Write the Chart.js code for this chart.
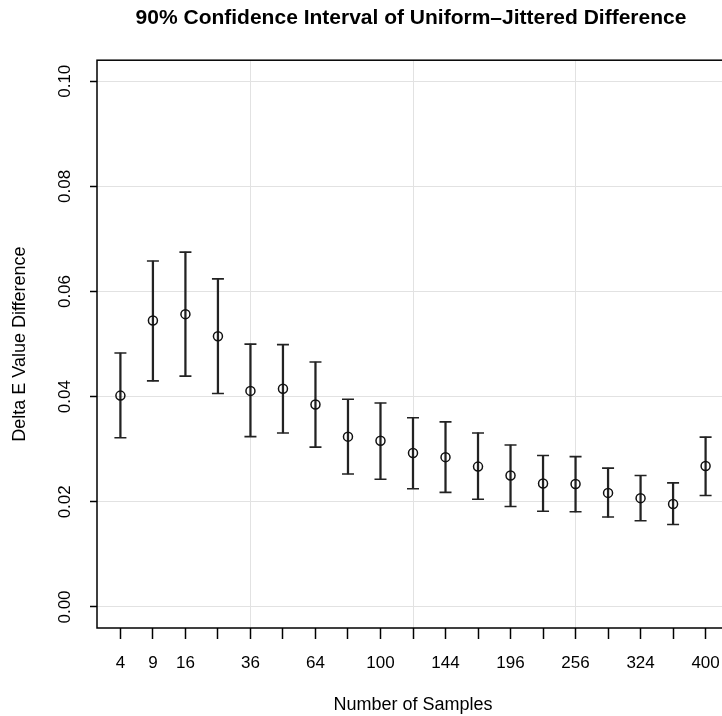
<!DOCTYPE html>
<html>
<head>
<meta charset="utf-8">
<script src="https://cdn.jsdelivr.net/npm/chart.js@4"></script>
<style>
    html, body { margin: 0; padding: 0; background: #fff; overflow: hidden; }
    #wrap { width: 822px; height: 716px; position: relative; }
</style>
</head>
<body>
<div id="wrap"><canvas id="ciChart"></canvas></div>
<script>
// ── Data ───────────────────────────────────────────────
const nSamples   = [4, 9, 16, 25, 36, 49, 64, 81, 100, 121, 144, 169, 196, 225, 256, 289, 324, 361, 400];
const meanDiff   = [0.0402, 0.0545, 0.0557, 0.0515, 0.0411, 0.0415, 0.0385, 0.0324, 0.0316, 0.0293,
                    0.0285, 0.0267, 0.0250, 0.0235, 0.0234, 0.0217, 0.0207, 0.0196, 0.0268];
const lowerCI    = [0.0322, 0.0430, 0.0439, 0.0406, 0.0324, 0.0331, 0.0304, 0.0253, 0.0243, 0.0225,
                    0.0218, 0.0205, 0.0191, 0.0182, 0.0181, 0.0171, 0.0164, 0.0157, 0.0212];
const upperCI    = [0.0483, 0.0658, 0.0675, 0.0624, 0.0500, 0.0499, 0.0466, 0.0395, 0.0388, 0.0360,
                    0.0352, 0.0331, 0.0308, 0.0288, 0.0286, 0.0264, 0.0250, 0.0236, 0.0323];
const shownXLabels = [4, 9, 16, 36, 64, 100, 144, 196, 256, 324, 400];
const yTicks       = [0, 0.02, 0.04, 0.06, 0.08, 0.10];
const xGridAt      = [5, 10, 15];

const FONT = "'Liberation Sans', Arial, sans-serif";
const INK = '#222';
const GRID = '#e2e2e2';

const pos = nSamples.map((n, i) => i + 1);

// ── Box around plot region ─────────────────────────────
const boxFrame = {
    id: 'boxFrame',
    afterDraw(chart) {
        const { ctx, chartArea: a } = chart;
        ctx.save();
        ctx.strokeStyle = '#000';
        ctx.lineWidth = 1.5;
        ctx.strokeRect(a.left, a.top, a.right - a.left, a.bottom - a.top);
        ctx.restore();
    }
};

Chart.defaults.font.family = FONT;
Chart.defaults.color = '#000';

new Chart(document.getElementById('ciChart'), {
    type: 'scatter',
    data: {
        datasets: [
            {
                label: 'mean',
                data: pos.map((x, i) => ({ x, y: meanDiff[i] })),
                pointStyle: 'circle',
                pointRadius: 4.5,
                borderWidth: 1.5,
                borderColor: '#111',
                backgroundColor: 'rgba(0,0,0,0)',
                order: 0
            },
            {
                label: 'upper',
                data: pos.map((x, i) => ({ x, y: upperCI[i] })),
                pointStyle: 'line',
                pointRadius: 6,
                borderWidth: 1.6,
                borderColor: INK,
                order: 1
            },
            {
                label: 'lower',
                data: pos.map((x, i) => ({ x, y: lowerCI[i] })),
                pointStyle: 'line',
                pointRadius: 6,
                borderWidth: 1.6,
                borderColor: INK,
                order: 1
            },
            {
                type: 'bar',
                label: 'interval',
                data: pos.map((x, i) => ({ x, y: [lowerCI[i], upperCI[i]] })),
                backgroundColor: INK,
                barThickness: 1.6,
                grouped: false,
                order: 2
            }
        ]
    },
    options: {
        responsive: true,
        maintainAspectRatio: false,
        animation: false,
        layout: { padding: 0 },
        plugins: {
            legend: { display: false },
            tooltip: { enabled: false },
            title: {
                display: true,
                text: '90% Confidence Interval of Uniform\u2013Jittered Difference',
                font: { size: 21, weight: 'bold' },
                color: '#000',
                padding: { top: 6, bottom: 29 }
            }
        },
        scales: {
            x: {
                type: 'linear',
                min: 0.28,
                max: 19.72,
                offset: false,
                afterBuildTicks: s => { s.ticks = pos.map(v => ({ value: v })); },
                afterFit: s => { s.height = 88; },
                ticks: {
                    autoSkip: false,
                    maxRotation: 0,
                    padding: 14,
                    font: { size: 17 },
                    callback: v => shownXLabels.includes(nSamples[v - 1]) ? String(nSamples[v - 1]) : ''
                },
                grid: {
                    offset: false,
                    color: c => (c.tick && xGridAt.includes(c.tick.value)) ? GRID : 'rgba(0,0,0,0)',
                    tickColor: '#000',
                    tickWidth: 1.5,
                    tickLength: 11
                },
                border: { display: false },
                title: {
                    display: true,
                    text: 'Number of Samples',
                    font: { size: 18 },
                    padding: { top: 0, bottom: 0 }
                }
            },
            y: {
                type: 'linear',
                min: -0.004,
                max: 0.104,
                afterBuildTicks: s => { s.ticks = yTicks.map(v => ({ value: v })); },
                afterFit: s => { s.width = 97; },
                ticks: {
                    minRotation: 90,
                    maxRotation: 90,
                    crossAlign: 'center',
                    padding: 8,
                    font: { size: 17 },
                    callback: v => v.toFixed(2)
                },
                grid: {
                    color: GRID,
                    tickColor: '#000',
                    tickWidth: 1.5,
                    tickLength: 7
                },
                border: { display: false },
                title: {
                    display: true,
                    text: 'Delta E Value Difference',
                    font: { size: 18 },
                    padding: { top: 9, bottom: 0 }
                }
            },
            yRight: {
                type: 'linear',
                position: 'right',
                afterFit: s => { s.width = 93; },
                ticks: { display: false },
                grid: { display: false },
                border: { display: false }
            }
        }
    },
    plugins: [boxFrame]
});
</script>
</body>
</html>
